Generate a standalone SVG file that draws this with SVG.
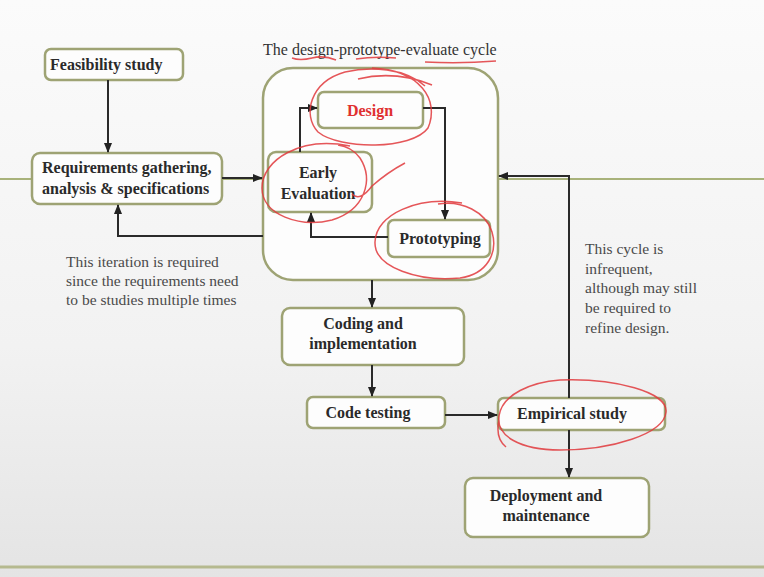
<svg xmlns="http://www.w3.org/2000/svg" width="764" height="577" viewBox="0 0 764 577">
<defs>
<linearGradient id="bg" x1="0" y1="0" x2="0" y2="1">
<stop offset="0" stop-color="#fbfbfb"/>
<stop offset="0.6" stop-color="#f2f2f2"/>
<stop offset="1" stop-color="#e4e4e4"/>
</linearGradient>
<marker id="ah" viewBox="0 0 10 10" refX="9" refY="5" markerWidth="5" markerHeight="5" orient="auto">
<path d="M0,1 L10,5 L0,9 z" fill="#222"/>
</marker>
<style>
.box{fill:#fdfdfd;stroke:#9ea374;stroke-width:2.5}
.t{font-family:"Liberation Serif","Times New Roman",serif;font-weight:bold;font-size:16px;fill:#2a2a2a}
.n{font-family:"Liberation Serif","Times New Roman",serif;font-size:15.5px;fill:#4a4a4a}
.c{stroke:#2a2a2a;stroke-width:2;fill:none}
.red{stroke:#e0383c;stroke-width:1.5;fill:none;opacity:0.85}
</style>
</defs>
<rect width="764" height="577" fill="url(#bg)"/>
<line x1="0" y1="179" x2="764" y2="179" stroke="#a8b27a" stroke-width="2"/>
<line x1="0" y1="567" x2="764" y2="567" stroke="#b5b98f" stroke-width="3"/>
<text class="n" x="263" y="55" style="font-size:16px;fill:#333">The design-prototype-evaluate cycle</text>
<g id="cycle"><rect class="box" x="263" y="68" width="235" height="212" rx="30"/></g>
<g id="feasibility"><rect class="box" x="45" y="49" width="138" height="31" rx="6"/><text class="t" x="50" y="70">Feasibility study</text></g>
<g id="requirements"><rect class="box" x="32" y="153" width="190" height="51" rx="8"/><text class="t" x="42" y="173">Requirements gathering,</text><text class="t" x="42" y="194">analysis &amp; specifications</text></g>
<g id="design"><rect class="box" x="318" y="92" width="105" height="36" rx="6"/><text class="t" x="370" y="116" text-anchor="middle" style="fill:#e03030">Design</text></g>
<g id="early"><rect class="box" x="268" y="152" width="104" height="60" rx="8"/><text class="t" x="318" y="178" text-anchor="middle">Early</text><text class="t" x="318" y="199" text-anchor="middle">Evaluation</text></g>
<g id="prototyping"><rect class="box" x="388" y="220" width="102" height="37" rx="6"/><text class="t" x="440" y="244" text-anchor="middle">Prototyping</text></g>
<g id="coding"><rect class="box" x="282" y="308" width="182" height="57" rx="8"/><text class="t" x="363" y="329" text-anchor="middle">Coding and</text><text class="t" x="363" y="349" text-anchor="middle">implementation</text></g>
<g id="testing"><rect class="box" x="307" y="397" width="138" height="31" rx="6"/><text class="t" x="368" y="418" text-anchor="middle">Code testing</text></g>
<g id="empirical"><rect class="box" x="498" y="398" width="167" height="32" rx="6"/><text class="t" x="572" y="419" text-anchor="middle">Empirical study</text></g>
<g id="deployment"><rect class="box" x="465" y="478" width="184" height="59" rx="8"/><text class="t" x="546" y="501" text-anchor="middle">Deployment and</text><text class="t" x="546" y="521" text-anchor="middle">maintenance</text></g>
<g id="connectors">
<path class="c" d="M108,80 V152" marker-end="url(#ah)"/>
<path class="c" d="M222,178 H262" marker-end="url(#ah)"/>
<path class="c" d="M300,152 V108 H317" marker-end="url(#ah)"/>
<path class="c" d="M423,108 H445 V219" marker-end="url(#ah)"/>
<path class="c" d="M388,237 H311 V213" marker-end="url(#ah)"/>
<path class="c" d="M263,236 H118 V205" marker-end="url(#ah)"/>
<path class="c" d="M372,280 V307" marker-end="url(#ah)"/>
<path class="c" d="M372,365 V396" marker-end="url(#ah)"/>
<path class="c" d="M445,415 H497" marker-end="url(#ah)"/>
<path class="c" d="M569,398 V176 H499" marker-end="url(#ah)"/>
<path class="c" d="M569,430 V477" marker-end="url(#ah)"/>
</g>
<g id="notes">
<text class="n" x="66" y="267">This iteration is required</text>
<text class="n" x="66" y="286">since the requirements need</text>
<text class="n" x="66" y="305">to be studies multiple times</text>
<text class="n" x="585" y="254">This cycle is</text>
<text class="n" x="585" y="274">infrequent,</text>
<text class="n" x="585" y="293">although may still</text>
<text class="n" x="585" y="313">be required to</text>
<text class="n" x="585" y="333">refine design.</text>
</g>
<g id="annotations">
<path class="red" d="M292,58 Q300,61 312,58 T336,60"/>
<path class="red" d="M356,59 Q375,56 396,58"/>
<path class="red" d="M425,62 Q460,64 496,61"/>
<path class="red" d="M358,79 Q395,70 432,85 M372,68 C420,70 440,100 428,128 C412,150 340,150 318,132 C302,115 310,82 345,72 C370,66 405,68 425,86"/>
<path class="red" d="M350,146 C300,136 262,160 262,188 C262,215 300,228 332,220 C365,210 374,180 360,158 C354,150 346,146 338,145 M352,194 Q360,202 372,186 Q388,172 405,163"/>
<path class="red" d="M462,203 C418,196 376,214 375,242 C374,268 420,282 460,278 C488,274 498,252 492,232 C486,212 462,200 438,204"/>
<path class="red" d="M560,380 C615,378 668,392 666,412 C664,434 612,450 560,450 C520,450 496,436 499,416 C502,394 532,382 560,380 M499,420 Q495,438 506,447"/>
</g>
</svg>
